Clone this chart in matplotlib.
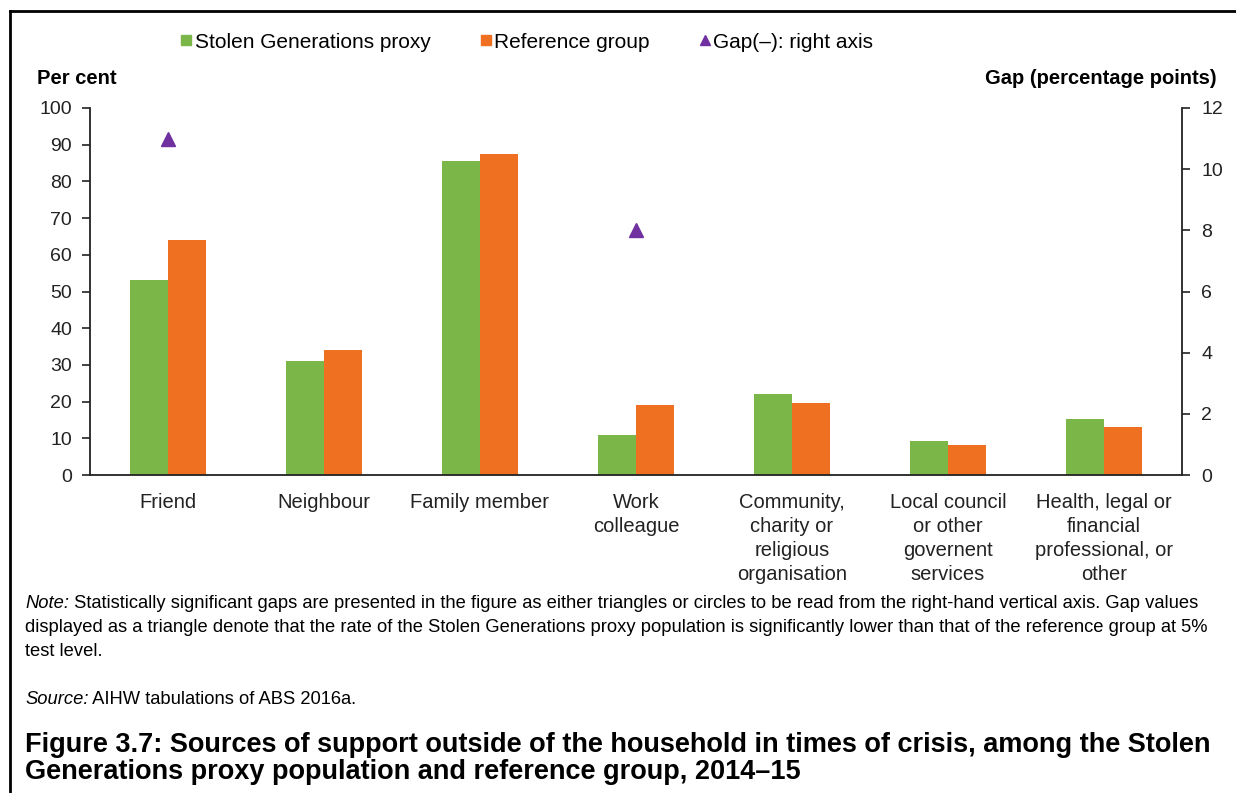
import matplotlib
matplotlib.use("Agg")
import matplotlib.pyplot as plt
from matplotlib.lines import Line2D
import numpy as np

plt.rcParams['font.family'] = ['Liberation Sans', 'DejaVu Sans']

categories = ["Friend", "Neighbour", "Family member", "Work\ncolleague",
              "Community,\ncharity or\nreligious\norganisation",
              "Local council\nor other\ngovernent\nservices",
              "Health, legal or\nfinancial\nprofessional, or\nother"]
stolen = [53, 31, 85.5, 11, 22, 9.2, 15.2]
reference = [64, 34, 87.5, 19, 19.5, 8.2, 13]
gap_idx = [0, 3]
gap_vals = [11.0, 8.0]

GREEN = "#7AB648"
ORANGE = "#F07022"
PURPLE = "#7030A0"

W, H = 1236, 793
fig = plt.figure(figsize=(W/100, H/100), dpi=100)
ax = fig.add_axes([90/W, 1-475/H, (1182-90)/W, (475-108)/H])
ax2 = ax.twinx()

x = np.arange(len(categories))
bw = 0.245
ax.bar(x - bw/2, stolen, bw, color=GREEN, zorder=2)
ax.bar(x + bw/2, reference, bw, color=ORANGE, zorder=2)
ax2.plot(gap_idx, gap_vals, linestyle='none', marker='^', color=PURPLE, markersize=10)

ax.set_xlim(-0.5, len(categories)-0.5)
ax.set_ylim(0, 100)
ax2.set_ylim(0, 12)
ax.set_yticks(range(0, 101, 10))
ax2.set_yticks(range(0, 13, 2))
ax.set_xticks(x)
ax.set_xticklabels(categories, fontsize=14.5, linespacing=1.33, va='top', color='#222222')
ax.tick_params(axis='x', length=0, pad=13)
ax.tick_params(axis='y', direction='out', length=6, width=1.2, labelsize=14, pad=7, colors='#222222')
ax2.tick_params(axis='y', direction='out', length=6, width=1.2, labelsize=14, pad=8, colors='#222222')
for a in (ax, ax2):
    a.spines['top'].set_visible(False)
    for s in ['left', 'right', 'bottom']:
        a.spines[s].set_color('#222222')
        a.spines[s].set_linewidth(1.3)
ax.spines['right'].set_visible(False)
ax2.spines['left'].set_visible(False)
ax2.spines['bottom'].set_visible(False)

fig.text(37/W, 1-79/H, "Per cent", fontsize=14.5, fontweight='bold', va='center', ha='left')
fig.text(1217/W, 1-79/H, "Gap (percentage points)", fontsize=14.5, fontweight='bold', va='center', ha='right')

handles = [Line2D([], [], linestyle='none', marker='s', color=GREEN, markersize=7),
           Line2D([], [], linestyle='none', marker='s', color=ORANGE, markersize=7),
           Line2D([], [], linestyle='none', marker='^', color=PURPLE, markersize=7)]
labels = ["Stolen Generations proxy", "Reference group", "Gap(\u2013): right axis"]
fig.legend(handles, labels, loc='center', bbox_to_anchor=(526/W, 1-42/H), ncol=3,
           frameon=False, fontsize=15, handletextpad=0.05, columnspacing=2.3, handlelength=0.7)

# border
fig.add_artist(Line2D([10/W, 10/W], [0, 1-11/H], color='black', linewidth=2, transform=fig.transFigure))
fig.add_artist(Line2D([10/W, 1], [1-11/H, 1-11/H], color='black', linewidth=2, transform=fig.transFigure))

fs = 13.2
t = fig.text(25/W, 1-604/H, "Note:", fontsize=fs, style='italic', va='center', ha='left')
fig.canvas.draw()
bb = t.get_window_extent()
fig.text(bb.x1/W, 1-604/H, " Statistically significant gaps are presented in the figure as either triangles or circles to be read from the right-hand vertical axis. Gap values",
         fontsize=fs, va='center', ha='left')
fig.text(25/W, 1-628/H, "displayed as a triangle denote that the rate of the Stolen Generations proxy population is significantly lower than that of the reference group at 5%",
         fontsize=fs, va='center', ha='left')
fig.text(25/W, 1-652/H, "test level.", fontsize=fs, va='center', ha='left')
t2 = fig.text(25/W, 1-700/H, "Source:", fontsize=fs, style='italic', va='center', ha='left')
fig.canvas.draw()
bb2 = t2.get_window_extent()
fig.text(bb2.x1/W, 1-700/H, " AIHW tabulations of ABS 2016a.", fontsize=fs, va='center', ha='left')

fig.text(25/W, 1-745/H, "Figure 3.7: Sources of support outside of the household in times of crisis, among the Stolen",
         fontsize=19.5, fontweight='bold', va='center', ha='left')
fig.text(25/W, 1-772/H, "Generations proxy population and reference group, 2014\u201315",
         fontsize=19.5, fontweight='bold', va='center', ha='left')

fig.savefig("out.png", dpi=100)
